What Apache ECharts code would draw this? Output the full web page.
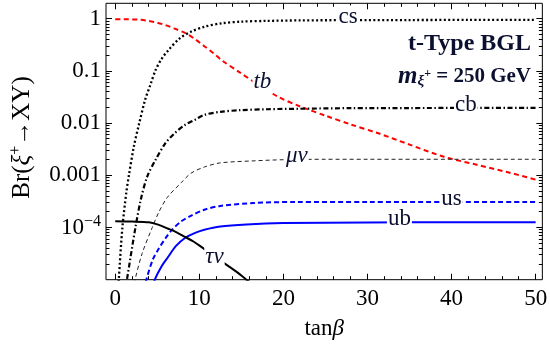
<!DOCTYPE html>
<html>
<head>
<meta charset="utf-8">
<script src="https://cdn.jsdelivr.net/npm/echarts@6/dist/echarts.min.js"></script>
<style>
  html, body { margin: 0; padding: 0; background: #fff; }
  #main { width: 550px; height: 350px; }
</style>
</head>
<body>
<div id="main"></div>
<script>
// branching ratios vs tan(beta)
var csX = [0.35, 0.42, 0.85, 1.3, 1.62, 2.2, 2.85, 3.55, 4.2, 4.8, 5.5, 6.3, 7.7, 9.05, 10.6, 12.7, 15, 18, 22, 28, 35, 42, 50];
var csY = [5e-6, 1e-5, 1e-4, 4.5e-4, 1e-3, 3.5e-3, 0.01, 0.028, 0.056, 0.105, 0.17, 0.25, 0.43, 0.575, 0.71, 0.83, 0.89, 0.92, 0.94, 0.95, 0.955, 0.96, 0.96];

var tbX = [0, 1, 2, 3, 4, 5, 5.9, 7, 8.3, 9.5, 10.6, 11.7, 12.7, 14.8, 17, 19.4, 22, 25, 28, 31.2, 35, 39, 43, 46.7, 50];
var tbY = [0.99, 0.99, 0.98, 0.965, 0.92, 0.85, 0.77, 0.66, 0.54, 0.41, 0.30, 0.22, 0.16, 0.095, 0.055, 0.032, 0.021, 0.014, 0.0095, 0.0065, 0.0039, 0.0023, 0.0016, 0.00115, 0.00083];

var cbX = [1.2, 1.39, 2.4, 3.05, 3.8, 4.8, 5.95, 7, 8.3, 9.5, 10.6, 12.5, 14.8, 18, 22, 28, 35, 42, 50];
var cbY = [6.3e-6, 1e-5, 1e-4, 3.5e-4, 9.5e-4, 2.0e-3, 4.1e-3, 6.3e-3, 9.3e-3, 0.0117, 0.0145, 0.0166, 0.0178, 0.0186, 0.019, 0.0195, 0.0196, 0.0197, 0.0197];

var munuX = [2.1, 2.35, 3.2, 4.4, 5.2, 6.2, 7.9, 9, 10.6, 12.5, 16.4, 20, 25, 30, 40, 50];
var munuY = [6.3e-6, 1e-5, 3.2e-5, 1e-4, 2e-4, 3.8e-4, 7.4e-4, 1.1e-3, 1.45e-3, 1.74e-3, 1.9e-3, 2.0e-3, 2.04e-3, 2.04e-3, 2.04e-3, 2.04e-3];

var usX = [3.5, 3.7, 4.5, 5.2, 6, 6.7, 7.8, 9.05, 10.6, 12.5, 16.4, 21.4, 30, 40, 50];
var usY = [6.3e-6, 1e-5, 2.5e-5, 4e-5, 6.3e-5, 8.9e-5, 1.3e-4, 1.7e-4, 2.2e-4, 2.6e-4, 2.95e-4, 3.1e-4, 3.1e-4, 3.1e-4, 3.1e-4];

var ubX = [4.5, 4.7, 5.5, 6.3, 7.2, 8.3, 9.5, 10.6, 12.5, 15.6, 20, 30, 40, 50];
var ubY = [7e-6, 1e-5, 1.8e-5, 2.75e-5, 4.4e-5, 6.3e-5, 7.9e-5, 9.1e-5, 1.05e-4, 1.15e-4, 1.22e-4, 1.25e-4, 1.26e-4, 1.26e-4];

var taunuX = [0, 2, 4, 5, 6.3, 7.3, 8.3, 9.3, 10.2, 11.3, 12.4, 13.5, 14.6, 15.6, 16.3];
var taunuY = [1.32e-4, 1.3e-4, 1.26e-4, 1.15e-4, 9.5e-5, 8.1e-5, 6.6e-5, 5.4e-5, 4.3e-5, 3.2e-5, 2.4e-5, 1.8e-5, 1.35e-5, 1.0e-5, 8.5e-6];

// in-plot curve labels
var curveLabelText = ['cs', '{it|tb}', 'cb', '{it|μν}', 'us', 'ub', '{it|τν}'];
var curveLabelX = [27.7, 17.5, 41.7, 21.6, 40.0, 33.8, 11.8];
var curveLabelY = [0.96, 0.055, 0.0197, 0.00204, 3.1e-4, 1.26e-4, 2.4e-5];

// axes
var xMin = -1.1, xMax = 50.8, yMin = 1e-5, yMax = 2;
var xLabelValues = [0, 10, 20, 30, 40, 50];
var xMinorValues = [];
for (var i = 2; i < 50; i += 2) {
  if (i % 10 !== 0) xMinorValues.push(i);
}
var yLabelValues = [1e-4, 1e-3, 1e-2, 0.1, 1];
var yLabelText = ['10{sup|−4}', '0.001', '0.01', '0.1', '1'];
var yMinorValues = [];
for (var k = -5; k <= 0; k++) {
  for (var m = 2; m <= 9; m++) {
    var v = m * Math.pow(10, k);
    if (v > yMin && v < yMax) yMinorValues.push(v);
  }
}

function zip(xs, ys) {
  return xs.map(function (x, i) { return [x, ys[i]]; });
}

var serif = 'Liberation Serif';
var ink = '#0c1030';
var chart = echarts.init(document.getElementById('main'));

function lineSeries(name, xs, ys, color, width, type) {
  return {
    name: name,
    type: 'line',
    data: zip(xs, ys),
    symbol: 'none',
    smooth: 0.3,
    clip: true,
    lineStyle: { color: color, width: width, type: type, cap: 'butt' },
    z: 3
  };
}

var option = {
  backgroundColor: '#fff',
  animation: false,
  title: [{
    text: 't-Type BGL',
    right: 14,
    top: 27,
    textStyle: { fontFamily: serif, fontWeight: 'bold', fontSize: 24, color: ink }
  }, {
    text: '{m|m}{sub|ξ}{sup|+}{b| = 250 GeV}',
    right: 14,
    top: 59,
    textStyle: {
      fontFamily: serif, color: ink,
      rich: {
        m: { fontFamily: serif, fontStyle: 'italic', fontWeight: 'bold', fontSize: 25, color: ink },
        sub: { fontFamily: serif, fontStyle: 'italic', fontSize: 15, color: ink, padding: [9, 0, 0, 0] },
        sup: { fontFamily: serif, fontSize: 12, color: ink, padding: [0, 0, 6, 0] },
        b: { fontFamily: serif, fontWeight: 'bold', fontSize: 21, color: ink }
      }
    }
  }],
  grid: {
    left: 97.5, right: 6.7, top: 3.3, bottom: 70.3,
    show: true, borderColor: '#000', borderWidth: 1, backgroundColor: 'transparent'
  },
  xAxis: {
    type: 'value',
    min: xMin,
    max: xMax,
    name: '{n|tan}{g|β}',
    nameLocation: 'middle',
    nameGap: 38,
    nameTextStyle: {
      rich: {
        n: { fontFamily: serif, fontSize: 23, color: '#000' },
        g: { fontFamily: serif, fontSize: 23, fontStyle: 'italic', color: '#000' }
      }
    },
    axisLine: { show: false, onZero: false },
    axisTick: { show: false },
    splitLine: { show: false },
    axisLabel: {
      customValues: xLabelValues,
      margin: 8,
      fontFamily: serif,
      fontSize: 23,
      color: '#000',
      formatter: function (v) {
        return xLabelValues.indexOf(v) >= 0 ? String(v) : '';
      }
    }
  },
  yAxis: {
    type: 'log',
    min: yMin,
    max: yMax,
    name: '{t|Br(}{x|ξ}{s|+}{t|→XY)}',
    nameLocation: 'middle',
    nameGap: 70,
    nameTextStyle: {
      padding: [0, 0, 0, 8],
      rich: {
        t: { fontFamily: serif, fontSize: 25, color: '#000' },
        x: { fontFamily: serif, fontSize: 25, fontStyle: 'italic', color: '#000' },
        s: { fontFamily: serif, fontSize: 16, color: '#000', padding: [0, 0, 12, 0] }
      }
    },
    axisLine: { show: false, onZero: false },
    axisTick: { show: false },
    splitLine: { show: false },
    axisLabel: {
      margin: 5,
      fontFamily: serif,
      fontSize: 23,
      color: '#000',
      formatter: function (v) {
        for (var i = 0; i < yLabelValues.length; i++) {
          if (Math.abs(Math.log10(v) - Math.log10(yLabelValues[i])) < 1e-6) return yLabelText[i];
        }
        return '';
      },
      rich: {
        sup: { fontFamily: serif, fontSize: 16, color: '#000', padding: [0, 0, 12, 0] }
      }
    }
  },
  series: [
    lineSeries('tb', tbX, tbY, '#ff0000', 2, [5, 3.5]),
    lineSeries('cs', csX, csY, '#000000', 2.3, [2, 2.4]),
    lineSeries('cb', cbX, cbY, '#000000', 2.2, [5, 2.5, 1.5, 2.5]),
    lineSeries('μν', munuX, munuY, '#222222', 1, [4, 3]),
    lineSeries('us', usX, usY, '#0000ff', 2, [5, 3]),
    lineSeries('ub', ubX, ubY, '#0000ff', 2, 'solid'),
    lineSeries('τν', taunuX, taunuY, '#000000', 2, 'solid')
  ]
};

chart.setOption(option);

// ticks and curve labels, placed through the chart's own axes
function toPx(x, y) {
  return chart.convertToPixel({ xAxisIndex: 0, yAxisIndex: 0 }, [x, y]);
}
function crisp(a) {
  return Math.round(a - 0.5) + 0.5;
}
var elements = [];
function tick(x, y, dx, dy) {
  var p = toPx(x, y);
  var px = dx === 0 ? crisp(p[0]) : p[0];
  var py = dy === 0 ? crisp(p[1]) : p[1];
  elements.push({
    type: 'line', silent: true, z: 50,
    shape: { x1: px, y1: py, x2: px + dx, y2: py + dy },
    style: { stroke: '#000', lineWidth: 1 }
  });
}
xLabelValues.forEach(function (x) { tick(x, yMin, 0, -6); tick(x, yMax, 0, 6); });
xMinorValues.forEach(function (x) { tick(x, yMin, 0, -3.5); tick(x, yMax, 0, 3.5); });
yLabelValues.forEach(function (y) { tick(xMin, y, 6, 0); tick(xMax, y, -6, 0); });
yMinorValues.forEach(function (y) { tick(xMin, y, 3.5, 0); tick(xMax, y, -3.5, 0); });

curveLabelText.forEach(function (t, i) {
  var p = toPx(curveLabelX[i], curveLabelY[i]);
  elements.push({
    type: 'text', silent: true, z: 60,
    x: p[0], y: p[1] - 3,
    style: {
      text: t,
      fontFamily: serif,
      fontSize: 23,
      fill: ink,
      align: 'center',
      verticalAlign: 'middle',
      backgroundColor: '#fff',
      padding: [0, 1, 0, 1],
      rich: {
        it: { fontFamily: serif, fontSize: 23, fontStyle: 'italic', fill: ink, color: ink }
      }
    }
  });
});

chart.setOption({ graphic: { elements: elements } });
</script>
</body>
</html>
